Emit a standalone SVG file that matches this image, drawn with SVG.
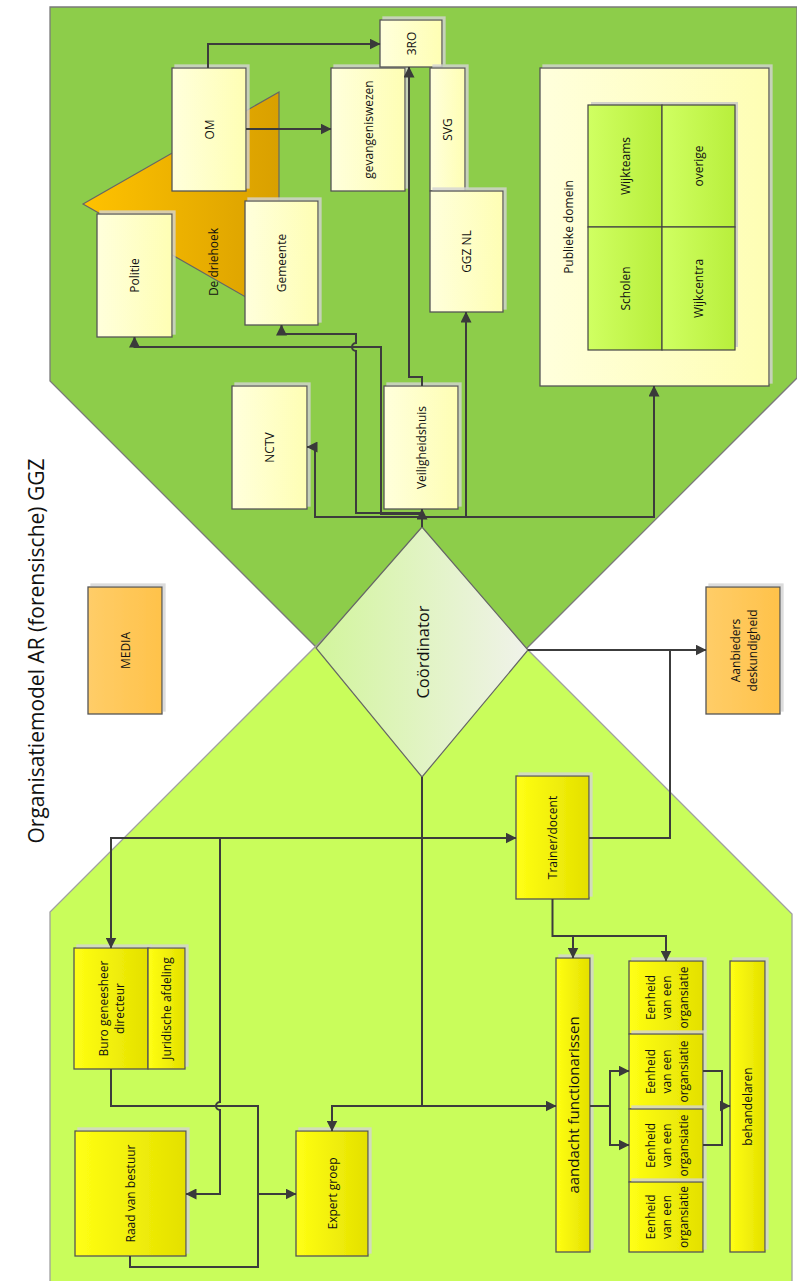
<svg xmlns="http://www.w3.org/2000/svg" width="797" height="1281" viewBox="0 0 797 1281">
<defs>
<linearGradient id="gLY" x1="0" y1="0" x2="1" y2="0"><stop offset="0" stop-color="#ffffdc"/><stop offset="1" stop-color="#fefeb4"/></linearGradient>
<linearGradient id="gY" x1="0" y1="0" x2="1" y2="0"><stop offset="0" stop-color="#ffff14"/><stop offset="1" stop-color="#e4e000"/></linearGradient>
<linearGradient id="gG" x1="0" y1="0" x2="1" y2="0"><stop offset="0" stop-color="#d0ff62"/><stop offset="1" stop-color="#b8ef3c"/></linearGradient>
<linearGradient id="gO" x1="0" y1="0" x2="1" y2="0"><stop offset="0" stop-color="#ffcd68"/><stop offset="1" stop-color="#ffc24a"/></linearGradient>
<linearGradient id="gT" x1="0" y1="0" x2="1" y2="0"><stop offset="0" stop-color="#ffc200"/><stop offset="1" stop-color="#d9a000"/></linearGradient>
<linearGradient id="gD" x1="0" y1="0" x2="1" y2="0"><stop offset="0" stop-color="#d2f59c"/><stop offset="1" stop-color="#f0f2ea"/></linearGradient>
<filter id="sh" x="-10%" y="-10%" width="120%" height="120%">
<feFlood flood-color="#d4d4d4" flood-opacity="0.8"/>
<feComposite in2="SourceAlpha" operator="in"/>
<feOffset dx="3" dy="-3"/>
<feMerge><feMergeNode/><feMergeNode in="SourceGraphic"/></feMerge>
</filter>
<marker id="ah" markerWidth="11" markerHeight="11" refX="10.5" refY="5.5" orient="auto" markerUnits="userSpaceOnUse"><path d="M0,0 L11,5.5 L0,11 z" fill="#3a3a3a"/></marker>
</defs>
<style>
.box{stroke:#555;stroke-width:1.3;filter:url(#sh)}
.ly{fill:url(#gLY)}
.y{fill:url(#gY)}
.g{fill:url(#gG)}
.o{fill:url(#gO)}
.t{font-family:"Open Sans","Liberation Sans",sans-serif;font-size:12px;fill:#111;text-anchor:middle;dominant-baseline:central}
.c{fill:none;stroke:#3c3c3c;stroke-width:2}
.a{marker-end:url(#ah)}
</style>
<rect width="797" height="1281" fill="#ffffff"/>
<g id="region-top">
<polygon points="50,7 797,7 797,378 422,753 50,381" fill="#8dcd4a" stroke="#7a7a7a" stroke-width="1.3"/>
</g>
<g id="region-bottom">
<polygon points="420,542 792,914 792,1283 50,1283 50,912" fill="#c9fd5b" stroke="#a0a0a0" stroke-width="1.3"/>
</g>
<g id="title">
<text class="t" transform="translate(36,651) rotate(-90)" style="font-size:21px">Organisatiemodel AR (forensische) GGZ</text>
</g>
<g id="driehoek">
<polygon points="83,204 279,92 279,316" fill="url(#gT)" stroke="#666" stroke-width="1.2"/>
<text class="t" transform="translate(213,262) rotate(-90)">De driehoek</text>
</g>
<g id="om"><rect class="box ly" x="172" y="68" width="74" height="123"/><text class="t" transform="translate(209,129.5) rotate(-90)">OM</text></g>
<g id="gevangeniswezen"><rect class="box ly" x="331" y="68" width="74" height="123"/><text class="t" transform="translate(368,129.5) rotate(-90)">gevangeniswezen</text></g>
<g id="3ro"><rect class="box ly" x="380" y="20" width="62" height="47"/><text class="t" transform="translate(411.5,43.5) rotate(-90)">3RO</text></g>
<g id="svg"><rect class="box ly" x="430" y="68" width="35" height="123"/><text class="t" transform="translate(447.5,129.5) rotate(-90)">SVG</text></g>
<g id="ggznl"><rect class="box ly" x="430" y="191" width="73" height="121"/><text class="t" transform="translate(466.5,251.5) rotate(-90)">GGZ NL</text></g>
<g id="politie"><rect class="box ly" x="97" y="214" width="75" height="123"/><text class="t" transform="translate(134.5,275.5) rotate(-90)">Politie</text></g>
<g id="gemeente"><rect class="box ly" x="245" y="201" width="73" height="124"/><text class="t" transform="translate(281.5,263) rotate(-90)">Gemeente</text></g>
<g id="nctv"><rect class="box ly" x="232" y="386" width="75" height="123"/><text class="t" transform="translate(269.5,447.5) rotate(-90)">NCTV</text></g>
<g id="veiligheidshuis"><rect class="box ly" x="384" y="386" width="74" height="123"/><text class="t" transform="translate(421,447.5) rotate(-90)">Veiligheidshuis</text></g>
<g id="publieke-domein">
<rect class="box ly" x="540" y="68" width="229" height="318"/>
<text class="t" transform="translate(568,227) rotate(-90)">Publieke domein</text>
<rect x="588" y="105" width="147" height="245" fill="#c8c8c8" opacity="0.8" transform="translate(3,-3)"/>
</g>
<g id="wijkteams"><rect class="g" x="588" y="105" width="74" height="122" stroke="#444" stroke-width="1.2"/><text class="t" transform="translate(625,166) rotate(-90)">Wijkteams</text></g>
<g id="overige"><rect class="g" x="662" y="105" width="73" height="122" stroke="#444" stroke-width="1.2"/><text class="t" transform="translate(698.5,166) rotate(-90)">overige</text></g>
<g id="scholen"><rect class="g" x="588" y="227" width="74" height="123" stroke="#444" stroke-width="1.2"/><text class="t" transform="translate(625,288.5) rotate(-90)">Scholen</text></g>
<g id="wijkcentra"><rect class="g" x="662" y="227" width="73" height="123" stroke="#444" stroke-width="1.2"/><text class="t" transform="translate(698.5,288.5) rotate(-90)">Wijkcentra</text></g>
<g id="media"><rect class="box o" x="88" y="587" width="74" height="127"/><text class="t" transform="translate(125,650.5) rotate(-90)">MEDIA</text></g>
<g id="aanbieders"><rect class="box o" x="706" y="587" width="74" height="127"/><text class="t" transform="translate(743,650.5) rotate(-90)"><tspan x="0" dy="-8.5">Aanbieders</tspan><tspan x="0" dy="17">deskundigheid</tspan></text></g>
<g id="coordinator">
<polygon points="422,527 528,650 422,777 316,648" fill="url(#gD)" stroke="#666" stroke-width="1.2"/>
<text class="t" transform="translate(422,652) rotate(-90)" style="font-size:16.5px">Coördinator</text>
</g>
<g id="trainer"><rect class="box y" x="516" y="776" width="73" height="123"/><text class="t" transform="translate(552.5,837.5) rotate(-90)">Trainer/docent</text></g>
<g id="buro"><rect class="box y" x="74" y="948" width="74" height="121"/><text class="t" transform="translate(111,1008.5) rotate(-90)"><tspan x="0" dy="-8">Buro geneesheer</tspan><tspan x="0" dy="16">directeur</tspan></text></g>
<g id="juridische"><rect class="box y" x="148" y="948" width="37" height="121"/><text class="t" transform="translate(166.5,1008.5) rotate(-90)">Juridische afdeling</text></g>
<g id="raad"><rect class="box y" x="75" y="1131" width="111" height="125"/><text class="t" transform="translate(130.5,1193.5) rotate(-90)">Raad van bestuur</text></g>
<g id="expert"><rect class="box y" x="296" y="1131" width="72" height="125"/><text class="t" transform="translate(332,1193.5) rotate(-90)">Expert groep</text></g>
<g id="aandacht"><rect class="box y" x="556" y="958" width="34" height="294"/><text class="t" transform="translate(573,1105) rotate(-90)" style="font-size:15px">aandacht functionarissen</text></g>
<g id="eenheid1"><rect class="box y" x="629" y="961" width="74" height="73"/><text class="t" transform="translate(666,997.5) rotate(-90)"><tspan x="0" dy="-16.5">Eenheid</tspan><tspan x="0" dy="16.5">van een</tspan><tspan x="0" dy="16.5">organsiatie</tspan></text></g>
<g id="eenheid2"><rect class="box y" x="629" y="1034" width="74" height="75"/><text class="t" transform="translate(666,1071.5) rotate(-90)"><tspan x="0" dy="-16.5">Eenheid</tspan><tspan x="0" dy="16.5">van een</tspan><tspan x="0" dy="16.5">organsiatie</tspan></text></g>
<g id="eenheid3"><rect class="box y" x="629" y="1109" width="74" height="73"/><text class="t" transform="translate(666,1145.5) rotate(-90)"><tspan x="0" dy="-16.5">Eenheid</tspan><tspan x="0" dy="16.5">van een</tspan><tspan x="0" dy="16.5">organsiatie</tspan></text></g>
<g id="eenheid4"><rect class="box y" x="629" y="1182" width="74" height="70"/><text class="t" transform="translate(666,1217) rotate(-90)"><tspan x="0" dy="-16.5">Eenheid</tspan><tspan x="0" dy="16.5">van een</tspan><tspan x="0" dy="16.5">organsiatie</tspan></text></g>
<g id="behandelaren"><rect class="box y" x="730" y="961" width="35" height="291"/><text class="t" transform="translate(747.5,1106.5) rotate(-90)">behandelaren</text></g>
<g id="connectors">
<path class="c a" d="M208,68 V44 H380"/>
<path class="c a" d="M246,129 H331"/>
<path class="c a" d="M422,386 V377 H409 V67"/>
<path class="c a" d="M422,527 V509"/>
<path class="c a" d="M422,517 H315 V447 H307"/>
<path class="c a" d="M422,517 H654 V386"/>
<path class="c a" d="M466,517 V312"/>
<path class="c a" d="M422,514 H381 V347 H134.5 V337"/>
<path class="c a" d="M422,513 H356 V351 A4,4 0 0 1 356,343 V334 H281.5 V325"/>
<path class="c a" d="M528,650 H706"/>
<path class="c" d="M589,838 H670 V650"/>
<path class="c a" d="M422,777 V1106 H556"/>
<path class="c a" d="M422,1106 H332 V1131"/>
<path class="c a" d="M422,838 H516"/>
<path class="c a" d="M422,838 H111 V948"/>
<path class="c a" d="M220,838 V1102 A4,4 0 0 0 220,1110 V1194 H186"/>
<path class="c" d="M111,1069 V1106 H258 V1267 H130 V1256"/>
<path class="c a" d="M258,1194 H296"/>
<path class="c" d="M552.5,899 V936 H666"/>
<path class="c a" d="M666,935 V961"/>
<path class="c a" d="M573,936 V958"/>
<path class="c a" d="M590,1106 H610 V1071 H629"/>
<path class="c a" d="M610,1106 V1145 H629"/>
<path class="c" d="M703,1071 H722 V1145 H703"/>
<path class="c a" d="M722,1106 H730"/>
</g>
</svg>
